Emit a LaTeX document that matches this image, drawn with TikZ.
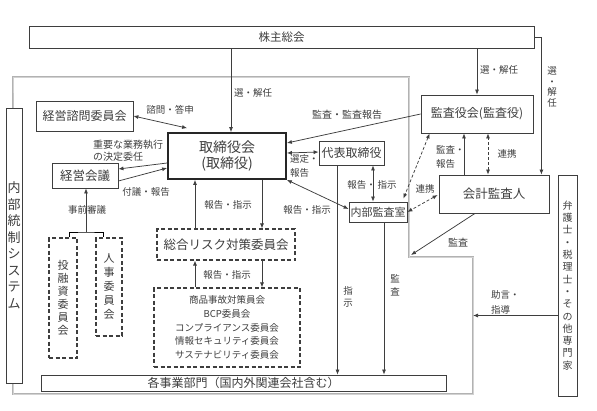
\documentclass[tikz,border=0pt]{standalone}
\usepackage{fontspec}
\setmainfont{Noto Sans CJK JP}
\usetikzlibrary{arrows.meta,positioning}
\definecolor{ink}{RGB}{62,62,62}
\tikzset{
  box/.style={draw=ink, text=ink, fill=white, line width=0.8pt, inner sep=0pt, font=\fontsize{12}{14}\selectfont},
  dbox/.style={box, dash pattern=on 4pt off 2.5pt, line width=1.1pt},
  vbox/.style={box, align=center, font=\fontsize{11}{13.5}\selectfont},
  lbl/.style={text=ink, inner sep=0pt, align=left, font=\fontsize{9.5}{12}\selectfont},
  arr/.style={-{Latex[length=5pt,width=4pt]}, draw=ink, line width=0.75pt},
  darr/.style={{Latex[length=5pt,width=4pt]}-{Latex[length=5pt,width=4pt]}, draw=ink, line width=0.75pt},
  link/.style={darr, dash pattern=on 3pt off 2pt},
  frame/.style={draw=gray!60, line width=2.6pt},
}
\begin{document}
\begin{tikzpicture}[x=1pt,y=-1pt]
\useasboundingbox (0,0) rectangle (597,410);
\coordinate (fc) at (409,257);
\coordinate (fR) at (473,257);
\coordinate (jn) at (86,232);
\draw[frame] (13,108) |- (409,77) |- (fR) |- (13,394) -- cycle;
\draw[gray!35, line width=0.8pt] (13,108) |- (409,77) |- (fR) |- (13,394) -- cycle;

\node[box, minimum width=505pt, minimum height=22pt, font=\fontsize{11.5}{14}\selectfont] (share) at (281.5,37) {株主総会};
\node[box, minimum width=16pt, minimum height=275pt, align=center, font=\fontsize{13}{16.5}\selectfont] (ics) at (14,245.5) {内\\部\\統\\制\\シ\\ス\\テ\\ム};
\node[box, minimum width=97pt, minimum height=30pt] (adv) at (84.5,116) {経営諮問委員会};
\node[box, minimum width=118pt, minimum height=46pt, line width=1.8pt, draw=black!85, align=center, font=\fontsize{14}{16}\selectfont] (board) at (227,156) {取締役会\\(取締役)};
\node[box, minimum width=66pt, minimum height=25pt, font=\fontsize{12.5}{14}\selectfont] (mgmt) at (85,175.5) {経営会議};
\node[vbox, dbox, minimum width=28pt, minimum height=120pt, align=center, font=\fontsize{11}{13}\selectfont] (inv) at (63,298) {投\\融\\資\\委\\員\\会};
\node[vbox, dbox, minimum width=26pt, minimum height=98pt, align=center, font=\fontsize{11}{14}\selectfont] (hr) at (109,287) {人\\事\\委\\員\\会};
\node[dbox, minimum width=138pt, minimum height=31pt, font=\fontsize{12.5}{14}\selectfont] (risk) at (226,244.5) {総合リスク対策委員会};
\node[dbox, minimum width=146pt, minimum height=79pt, align=center, font=\fontsize{9.5}{13.8}\selectfont] (subs) at (227,327.5) {商品事故対策員会\\BCP委員会\\コンプライアンス委員会\\情報セキュリティ委員会\\サステナビリティ委員会};
\node[box, minimum width=405pt, minimum height=16pt] (div) at (243.5,383) {各事業部門（国内外関連会社含む）};
\node[box, minimum width=65pt, minimum height=24pt] (ceo) at (351.5,153) {代表取締役};
\node[box, minimum width=58pt, minimum height=20pt, font=\fontsize{11}{13}\selectfont] (audit) at (378,212) {内部監査室};
\node[box, minimum width=112pt, minimum height=38pt] (kansa) at (477,114) {監査役会(監査役)};
\node[box, minimum width=110pt, minimum height=38pt, font=\fontsize{12.5}{14}\selectfont] (acct) at (494,194) {会計監査人};
\node[box, minimum width=19pt, minimum height=221pt, align=center, font=\fontsize{10}{12.3}\selectfont] (law) at (567.5,285.5) {弁\\護\\士\\・\\税\\理\\士\\・\\そ\\の\\他\\専\\門\\家};

\draw[arr] ([xshift=4pt]board.north |- share.south) -- ([xshift=4pt]board.north);
\node[lbl, anchor=west] (l-sel1) at (234,93) {選・解任};
\draw[arr] (kansa.north |- share.south) -- (kansa.north);
\node[lbl, anchor=west] (l-sel2) at (480,70) {選・解任};
\draw[arr] (share.east) -| ([xshift=-8pt]acct.north east);
\node[lbl, align=center, font=\fontsize{9.5}{10.5}\selectfont] (l-sel3) at (552,87) {選\\・\\解\\任};

\draw[darr] (adv.east) -- ([xshift=20pt,yshift=4pt]board.north west);
\node[lbl] (l-adv) at (170,110) {諮問・答申};
\draw[arr] ([yshift=-7pt]board.west) -- ([yshift=6.5pt]mgmt.east);
\draw[arr] ([yshift=-5.5pt]mgmt.east) -- ([yshift=-12pt]board.west);
\node[lbl, anchor=west, font=\fontsize{10}{12}\selectfont] (l-del) at (93,151) {重要な業務執行\\の決定委任};
\node[lbl] (l-rep1) at (146,192) {付議・報告};
\draw ([xshift=6pt]inv.north) |- (jn) -| ([xshift=-6pt]hr.north);
\draw[arr] (jn) -- (jn |- mgmt.south);
\node[lbl] (l-pre) at (87,210) {事前審議};

\draw[arr] ([xshift=-31pt]risk.north) -- ([xshift=-31pt]risk.north |- board.south);
\draw[arr] ([xshift=35pt]board.south) -- ([xshift=35pt]board.south |- risk.north);
\node[lbl] (l-ri1) at (228,205) {報告・指示};
\draw[arr] ([xshift=-32pt]subs.north) -- ([xshift=-32pt]subs.north |- risk.south);
\draw[arr] ([xshift=36pt]risk.south) -- ([xshift=36pt]risk.south |- subs.north);
\node[lbl] (l-ri2) at (227,275) {報告・指示};

\draw[darr] (ceo.west -| board.east) -- ([yshift=1pt]ceo.west);
\node[lbl, anchor=west, font=\fontsize{9.5}{14}\selectfont] (l-ceo) at (290,166) {選定・\\報告};
\draw[darr] ([xshift=-5pt]audit.north |- ceo.south) -- ([xshift=-5pt]audit.north);
\node[lbl] (l-ca) at (372,185) {報告・\hspace{2pt}指示};
\draw[darr] (board.south east) -- ([yshift=3pt]audit.west);
\node[lbl] (l-ba) at (307,210) {報告・指示};
\draw[arr] ([xshift=-14pt]ceo.south) -- ([xshift=-14pt]ceo.south |- div.north);
\node[lbl, align=center, font=\fontsize{9.5}{12}\selectfont] (l-ins) at (348,297) {指\\示};
\draw[arr] ([xshift=6pt]audit.south) -- ([xshift=6pt]audit.south |- div.north);
\node[lbl, align=center, font=\fontsize{9.5}{13}\selectfont] (l-aud1) at (395,285) {監\\査};

\draw[arr] (kansa.west) -- ([yshift=13pt]board.east);
\node[lbl, font=\fontsize{10}{12}\selectfont] (l-rep2) at (347,115) {監査・監査報告};
\draw[link] ([xshift=9pt]kansa.south west) -- ([xshift=-4pt,yshift=3pt]audit.north east);
\draw[arr] ([xshift=-30pt]acct.north) -- ([xshift=-30pt]acct.north |- kansa.south);
\node[lbl, anchor=west, font=\fontsize{9.5}{14}\selectfont] (l-ar) at (436,157) {監査・\\報告};
\draw[link] ([xshift=-6pt]acct.north) -- ([xshift=-6pt]acct.north |- kansa.south);
\node[lbl] (l-lk1) at (507,154) {連携};
\draw[link] ([xshift=-1pt,yshift=-1pt]acct.west) -- (audit.east);
\node[lbl] (l-lk2) at (425,189) {連携};
\draw[arr] ([xshift=-19pt]acct.south) -- ([xshift=2pt,yshift=2pt]fc);
\node[lbl, font=\fontsize{10}{12}\selectfont] (l-aud2) at (458,243) {監査};
\draw[arr] ([yshift=-30pt]law.west) -- ([yshift=-30pt]law.west -| fR);
\node[lbl, anchor=west, font=\fontsize{9.5}{15}\selectfont] (l-law) at (491,302) {助言・\\指導};
\end{tikzpicture}
\end{document}
